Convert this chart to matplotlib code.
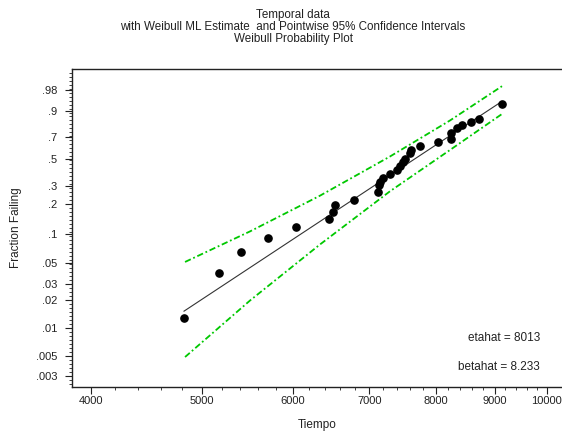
import numpy as np
import matplotlib
matplotlib.use("Agg")
import matplotlib.pyplot as plt
from matplotlib.ticker import FixedLocator, NullFormatter, FixedFormatter

plt.rcParams['font.family'] = ['Liberation Sans', 'DejaVu Sans']

# ---- data ----
time = [4822, 5173, 5406, 5709, 6040, 6452, 6505, 6531, 6785, 7121,
        7135, 7150, 7192, 7294, 7397, 7443, 7488, 7517, 7593, 7609,
        7747, 8032, 8245, 8245, 8344, 8429, 8582, 8721, 9134]
frac = [0.0129, 0.0391, 0.0652, 0.0915, 0.1186, 0.1432, 0.168, 0.1967, 0.2197, 0.261,
        0.303, 0.323, 0.352, 0.380, 0.410, 0.441, 0.474, 0.500, 0.553, 0.581,
        0.619, 0.654, 0.682, 0.735, 0.780, 0.804, 0.829, 0.851, 0.936]

fit_time = [4822, 9134]
fit_frac = [0.0152, 0.947]

band_time = [4832, 5506, 6337, 7294, 8229, 9136]
upper_frac = [0.0512, 0.1069, 0.2417, 0.5222, 0.8382, 0.9865]
lower_frac = [0.00484, 0.0198, 0.0782, 0.2657, 0.5808, 0.8828]

xtick_vals = [4000, 5000, 6000, 7000, 8000, 9000, 10000]
xtick_labels = ['4000', '5000', '6000', '7000', '8000', '9000', '10000']
ytick_vals = [0.003, 0.005, 0.01, 0.02, 0.03, 0.05, 0.1, 0.2, 0.3, 0.5, 0.7, 0.9, 0.98]
ytick_labels = ['.003', '.005', '.01', '.02', '.03', '.05', '.1', '.2', '.3', '.5', '.7', '.9', '.98']

title_lines = "Temporal data\nwith Weibull ML Estimate  and Pointwise 95% Confidence Intervals\nWeibull Probability Plot"


def fwd(p):
    p = np.asarray(p, dtype=float)
    with np.errstate(all='ignore'):
        return np.log(-np.log1p(-p))


def inv(z):
    z = np.asarray(z, dtype=float)
    with np.errstate(all='ignore'):
        return -np.expm1(-np.exp(z))


W, H = 562, 442
fig = plt.figure(figsize=(W / 100, H / 100), dpi=100)
ax = fig.add_axes([72 / W, 1 - 387 / H, (563 - 72) / W, (387 - 69) / H])

ax.set_xscale('log')
ax.set_yscale('function', functions=(fwd, inv))
ax.set_xlim(3850, 10328)
ax.set_ylim(0.002286, 0.99867)

green = '#00c800'
ax.plot(band_time, upper_frac, color=green, lw=1.3, ls=(0, (3.5, 1.5, 1, 1.5)))
ax.plot(band_time, lower_frac, color=green, lw=1.3, ls=(0, (3.5, 1.5, 1, 1.5)))
ax.plot(fit_time, fit_frac, color='#333333', lw=0.8)
ax.plot(time, frac, 'o', color='black', ms=5.2, mec='black')

# ticks
ax.xaxis.set_major_locator(FixedLocator(xtick_vals))
ax.xaxis.set_major_formatter(FixedFormatter(xtick_labels))
xminor = [v for v in range(3800, 10001, 200) if v not in xtick_vals]
ax.xaxis.set_minor_locator(FixedLocator(xminor))
ax.xaxis.set_minor_formatter(NullFormatter())

ax.yaxis.set_major_locator(FixedLocator(ytick_vals))
ax.yaxis.set_major_formatter(FixedFormatter(ytick_labels))
yminor = list(inv(np.arange(-6.0, 1.85, 0.1)))
ax.yaxis.set_minor_locator(FixedLocator(yminor))
ax.yaxis.set_minor_formatter(NullFormatter())

ax.tick_params(axis='both', which='major', direction='out', length=5, width=0.8,
               labelsize=8, colors='#222222')
ax.tick_params(axis='both', which='minor', direction='out', length=2.5, width=0.6,
               colors='#222222')
ax.tick_params(axis='y', which='major', pad=5.5)
ax.tick_params(axis='x', which='major', pad=1.5)

for s in ax.spines.values():
    s.set_linewidth(1.0)
    s.set_color('#222222')

ax.set_xlabel('Tiempo', fontsize=8.5, color='#222222', labelpad=9)
ax.set_ylabel('Fraction Failing', fontsize=8.5, color='#222222', labelpad=10)

ax.text(540 / W, 1 - 338 / H, 'etahat = 8013', transform=fig.transFigure,
        ha='right', va='center', fontsize=8.5, color='#222222')
ax.text(540 / W, 1 - 367 / H, 'betahat = 8.233', transform=fig.transFigure,
        ha='right', va='center', fontsize=8.5, color='#222222')

fig.text(293 / W, 1 - 27 / H, title_lines, ha='center', va='center',
         fontsize=8.4, color='#222222', linespacing=1.0)

fig.savefig('out.png', dpi=100)
